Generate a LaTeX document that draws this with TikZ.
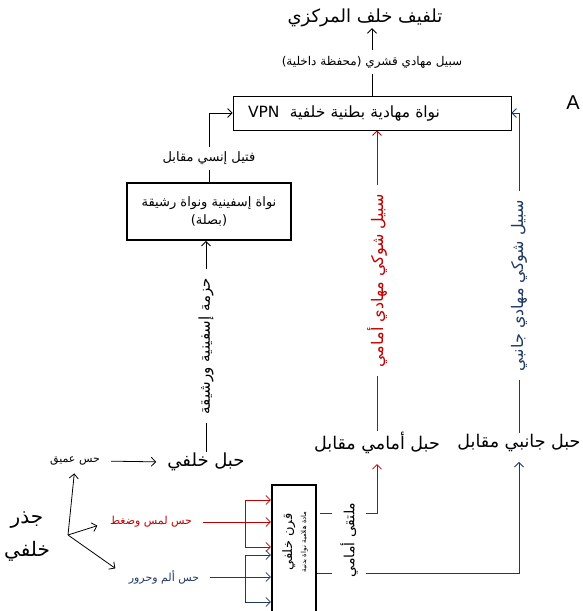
\documentclass[tikz,border=0pt]{standalone}
\usepackage{fontspec}
\setmainfont{Liberation Sans}
\newfontfamily\arabicfont[Script=Arabic]{DejaVu Sans}
\TeXXeTstate=1
\usetikzlibrary{arrows.meta}
\newcommand\artext[1]{{\arabicfont\beginR #1\endR}}
\definecolor{tractred}{HTML}{C00000}
\definecolor{tractblue}{HTML}{203864}

\begin{document}
\begin{tikzpicture}[x=1pt,y=-1pt,
  every node/.style={inner sep=1pt},
  fsz/.style={font=\fontsize{#1}{#1}\selectfont},
  arr/.style={-{Straight Barb[length=4.5pt,width=9pt]}, line width=0.8pt},
  plain/.style={line width=0.8pt},
  gap/.style={fill=white},
  vlabel/.style={fill=white, rotate=90, inner xsep=9pt, inner ysep=1pt},
]
\useasboundingbox (0,0) rectangle (582,611);

% ---- thalamus and cortex ----
\node[fsz=18] (title) at (365,18) {\artext{تلفيف خلف المركزي}};
\node[draw, line width=0.8pt, minimum height=34pt, text width=248pt, inner xsep=15pt,
      align=left, fsz=15.5] (vpn) at (372,113) {\artext{نواة مهادية بطنية خلفية\ \ \beginL VPN\endL}};
\node[fsz=20] (panel) at (573,103) {A};

\draw[arr] (vpn.north) -- node[gap, fsz=12, inner ysep=6pt] {\artext{سبيل مهادي قشري (محفظة داخلية)}}
  (vpn.north |- title.south);

% ---- medulla ----
\node[draw, line width=1.8pt, minimum width=164pt, minimum height=57pt, align=center, fsz=13]
  (grac) at (209,211.5) {\artext{نواة إسفينية ونواة رشيقة}\\[3pt] \artext{(بصلة)}};

\draw[arr] (grac.north) |- node[pos=0.17, gap, fsz=13, inner ysep=5pt] {\artext{فتيل إنسي مقابل}} (vpn.west);

% ---- spinal cord columns ----
\node[fsz=18] (dc) at (206,462) {\artext{حبل خلفي}};
\node[fsz=17.5] (lar) at (377,443) {\artext{حبل أمامي مقابل}};
\node[fsz=17.5] (llr) at (519,443) {\artext{حبل جانبي مقابل}};

\draw[arr] (dc.north) -- node[vlabel, fsz=15] {\artext{حزمة إسفينية ورشيقة}} (dc.north |- grac.south);
\draw[arr, tractred] (lar.north) -- node[vlabel, fsz=16, text=tractred] {\artext{سبيل شوكي مهادي أمامي}} (lar.north |- vpn.south);
\draw[arr, tractblue] (llr.north) |- node[pos=0.23, vlabel, fsz=16, text=tractblue] {\artext{سبيل شوكي مهادي جانبي}} (vpn.east);

% ---- dorsal root ----
\node[fsz=20, align=center] (root) at (27,537) {\artext{جذر}\\[12pt]\artext{خلفي}};
\coordinate (rootfan) at (68,535);
\node[fsz=11] (ds) at (75,461) {\artext{حس عميق}};
\node[fsz=11, text=tractred] (tp) at (151,522) {\artext{حس لمس وضغط}};
\node[fsz=11, text=tractblue] (pt) at (164,577) {\artext{حس ألم وحرور}};

\draw[arr, shorten >=7pt] (rootfan) -- (ds.south);
\draw[arr, shorten >=12pt] (rootfan) -- (tp.west);
\draw[arr, shorten >=15pt] (rootfan) -- (pt.west);
\draw[arr, shorten <=10pt, shorten >=10pt] (ds.east) -- (dc.west);

% ---- dorsal horn ----
\node[draw, line width=2.2pt, minimum width=44pt, minimum height=145pt] (dh) at (294,557.5) {};
\node[rotate=90, align=center, inner sep=0pt] (dhtext) at (295,542)
  {{\fontsize{13}{15}\selectfont\artext{قرن خلفي}}\\[2pt]{\fontsize{7}{8}\selectfont\artext{مادة هلامية نواة بدنية}}};

% touch and pressure fibres
\coordinate (tpa) at (245,500);
\coordinate (tpc) at (245,547);
\draw[arr, tractred, shorten <=10pt] (tp.east) -- (dh.west |- tp.east);
\draw[arr, tractred] (tpa) -- (dh.west |- tpa);
\draw[arr, tractred] (tpc) -- (dh.west |- tpc);
\draw[plain, tractred] (tpa) -- (tpc);

% pain and temperature fibres
\coordinate (pta) at (245,555);
\coordinate (ptc) at (245,602);
\draw[arr, tractblue, shorten <=10pt] (pt.east) -- (dh.west |- pt.east);
\draw[arr, tractblue] (pta) -- (dh.west |- pta);
\draw[arr, tractblue] (ptc) -- (dh.west |- ptc);
\draw[plain, tractblue] (pta) -- (ptc);

% crossing in the anterior commissure
\coordinate (redbend) at (377,513);
\coordinate (bluebend) at (519,573);
\draw[arr, tractred, shorten <=3pt, shorten >=9pt] (redbend -| dh.east) -- (redbend) -- (lar.south);
\draw[arr, tractblue, shorten >=9pt] (bluebend -| dh.east) -- (bluebend) -- (llr.south);
\node[vlabel, fsz=14, inner xsep=2pt, inner ysep=8pt] (avc) at (349,540) {\artext{ملتقى أمامي}};
\end{tikzpicture}
\end{document}
